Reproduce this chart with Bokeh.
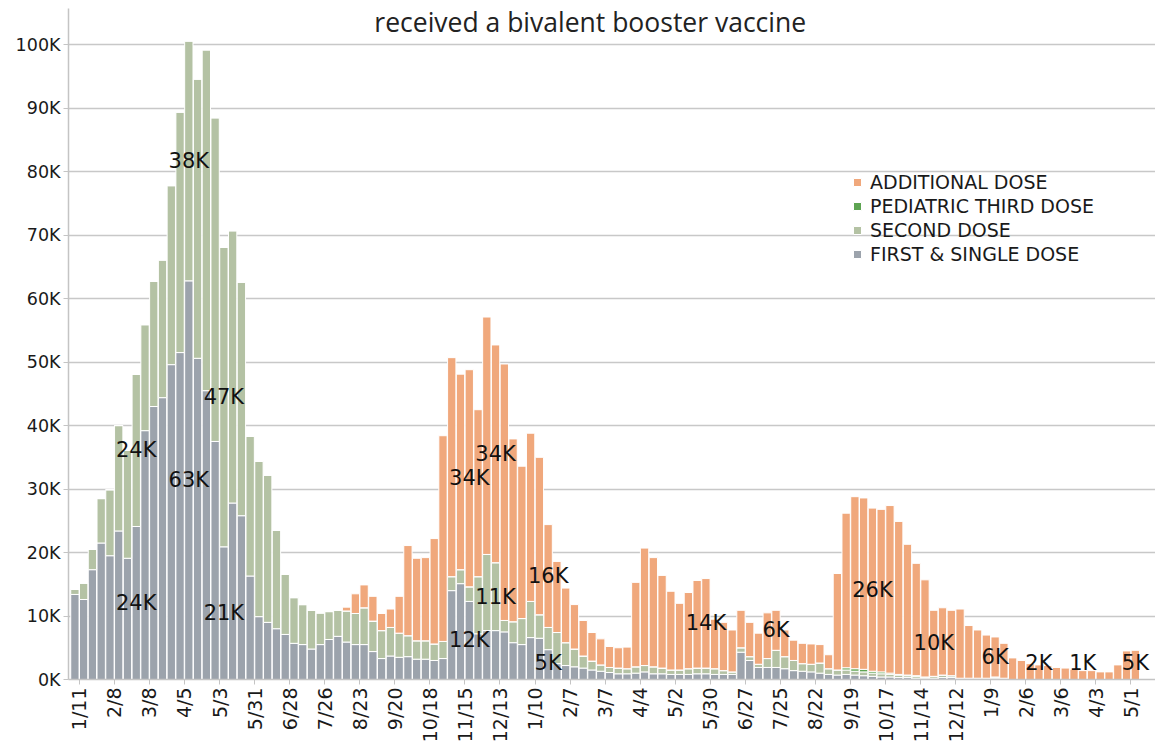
import math
from bokeh.plotting import figure
from bokeh.models import (ColumnDataSource, FixedTicker, Legend, LegendItem, Label,
                          LabelSet, Range1d)
from bokeh.embed import file_html
from bokeh.resources import INLINE
from bokeh.core.properties import value

# ---------------- data (weekly doses, thousands) ----------------
tick_labels = ["1/11", "2/8", "3/8", "4/5", "5/3", "5/31", "6/28", "7/26", "8/23", "9/20",
               "10/18", "11/15", "12/13", "1/10", "2/7", "3/7", "4/4", "5/2", "5/30", "6/27",
               "7/25", "8/22", "9/19", "10/17", "11/14", "12/12", "1/9", "2/6", "3/6", "4/3", "5/1"]

first_dose = [13.4, 12.6, 17.3, 21.5, 19.5, 23.4, 19.1, 24.1, 39.2, 43.0,
              44.4, 49.6, 51.5, 62.8, 50.6, 45.5, 37.5, 20.9, 27.8, 25.8,
              16.3, 9.9, 9.0, 8.0, 7.1, 5.7, 5.5, 4.8, 5.5, 6.3,
              6.8, 5.9, 5.5, 5.5, 4.4, 3.3, 3.7, 3.5, 3.6, 3.2,
              3.2, 3.0, 3.3, 14.0, 15.1, 12.3, 7.2, 7.7, 7.7, 7.5,
              5.8, 5.5, 6.6, 6.5, 4.7, 2.5, 2.2, 2.0, 1.8, 1.5,
              1.3, 1.1, 0.9, 0.9, 1.0, 1.2, 0.9, 0.9, 0.8, 0.8,
              0.8, 0.9, 0.9, 0.8, 0.8, 0.8, 4.3, 3.0, 1.9, 1.9,
              1.9, 1.7, 1.4, 1.3, 1.2, 1.0, 0.8, 0.7, 0.8, 0.7,
              0.6, 0.5, 0.4, 0.4, 0.3, 0.3, 0.2, 0.2, 0.2, 0.3,
              0.3, 0.1, 0.1, 0.1, 0.1, 0.2, 0.1, 0.0, 0.0, 0.0,
              0.0, 0.0, 0.0, 0.0, 0.0, 0.0, 0.0, 0.0, 0.0, 0.0,
              0.0, 0.0]

second_dose = [0.8, 2.6, 3.2, 7.0, 10.4, 16.6, 17.0, 24.0, 16.7, 19.7,
               21.7, 28.2, 37.9, 37.8, 44.0, 53.7, 51.0, 47.2, 42.9, 36.8,
               22.0, 24.5, 23.2, 15.5, 9.5, 7.2, 6.3, 6.1, 5.0, 4.4,
               4.1, 4.9, 4.9, 5.8, 4.8, 4.4, 4.5, 3.8, 3.3, 2.9,
               2.9, 2.6, 2.7, 2.2, 2.2, 2.3, 9.0, 12.0, 10.7, 1.8,
               3.3, 4.1, 5.7, 3.7, 3.5, 4.9, 3.6, 2.8, 1.9, 1.4,
               1.0, 0.8, 0.9, 0.8, 1.0, 1.0, 1.1, 0.9, 0.7, 0.7,
               0.9, 0.9, 0.9, 0.9, 0.6, 0.4, 0.7, 0.6, 0.5, 1.4,
               2.7, 1.9, 1.6, 1.2, 1.2, 1.6, 0.9, 0.8, 0.7, 0.6,
               0.6, 0.5, 0.5, 0.4, 0.4, 0.3, 0.3, 0.2, 0.3, 0.4,
               0.3, 0.1, 0.1, 0.1, 0.1, 0.2, 0.1, 0.0, 0.0, 0.0,
               0.0, 0.0, 0.0, 0.0, 0.0, 0.0, 0.0, 0.0, 0.0, 0.0,
               0.0, 0.0]

pediatric_third = [0.0] * 88 + [0.35, 0.4, 0.4, 0.3, 0.3, 0.2, 0.1, 0.1, 0.1] + [0.0] * 25

additional_dose = [0.0] * 31 + [
    0.6, 3.1, 3.6, 3.9, 2.7, 2.9, 5.8, 14.2, 13.0, 13.1,
    16.6, 32.4, 34.5, 30.8, 34.2, 26.3, 37.4, 34.3, 40.4, 28.8,
    24.0, 26.5, 24.8, 16.2, 11.2, 8.6, 7.0, 5.6, 4.5, 4.1,
    3.3, 3.2, 3.4, 13.3, 18.5, 17.2, 14.6, 12.4, 10.5, 12.0,
    13.8, 14.1, 7.8, 7.6, 6.6, 5.9, 5.4, 4.9, 7.2, 6.3,
    4.2, 3.2, 3.2, 3.2, 2.9, 2.2, 15.2, 24.35, 27.1, 27.0,
    25.7, 25.6, 26.4, 24.1, 20.6, 17.7, 15.3, 10.4, 10.6, 10.3,
    10.9, 8.3, 7.6, 6.8, 6.3, 5.5, 3.4, 3.0, 2.5, 2.3,
    2.2, 1.9, 1.8, 1.6, 1.4, 1.4, 1.2, 1.2, 2.3, 4.5,
    4.6]

series_keys = ["first", "second", "pediatric", "additional"]
series_names = ["FIRST & SINGLE DOSE", "SECOND DOSE", "PEDIATRIC THIRD DOSE", "ADDITIONAL DOSE"]
series_colors = ["#9ca3ac", "#b4c2a4", "#5ea452", "#f0a87c"]

# bars that carry a value label: (week index, series index)
labelled = [(7, 0), (7, 1), (13, 0), (13, 1), (17, 0), (17, 1),
            (45, 0), (45, 3), (48, 1), (48, 3), (54, 0), (54, 3),
            (72, 3), (80, 3), (91, 3), (98, 3), (105, 3), (110, 3),
            (115, 3), (121, 3)]

title_text = "received a bivalent booster vaccine"
y_ticks = list(range(0, 101, 10))

# ---------------- build ----------------
n = len(first_dose)
xs = [k + 0.5 for k in range(n)]
series = [first_dose, second_dose, pediatric_third, additional_dose]
src = ColumnDataSource(dict(x=xs, first=first_dose, second=second_dose,
                            pediatric=pediatric_third, additional=additional_dose))

FONT = "DejaVu Sans"
p = figure(width=1155, height=750, output_backend="svg", toolbar_location=None,
           x_range=Range1d(-0.23, 123.8), y_range=Range1d(0, 105.7),
           min_border_left=68, min_border_right=0, min_border_top=8, min_border_bottom=71)
p.outline_line_color = None
p.background_fill_color = "white"

renderers = p.vbar_stack(series_keys, x="x", width=0.95, source=src,
                         color=series_colors, line_color="white", line_width=1)

# value labels
lx, ly, lt = [], [], []
for k, s in labelled:
    base = sum(series[i][k] for i in range(s))
    v = series[s][k]
    lx.append(xs[k])
    ly.append(max(base + v / 2.0, 2.6))
    lt.append("%dK" % round(v))
lab_src = ColumnDataSource(dict(x=lx, y=ly, t=lt))
p.add_layout(LabelSet(x="x", y="y", text="t", source=lab_src, text_align="center",
                      text_baseline="middle", text_font=value(FONT),
                      text_font_size="21px", text_color="#111111"))

# title (top of chart)
p.add_layout(Label(x=59.3, y=106.4, text=title_text, text_align="center",
                   text_baseline="top", text_font="Open Sans",
                   text_font_size="26.5px", text_color="#222222"))

# axes
p.yaxis.ticker = FixedTicker(ticks=y_ticks)
p.yaxis.major_label_overrides = {t: "%dK" % t for t in y_ticks}
p.xaxis.ticker = FixedTicker(ticks=[1 + 4 * j for j in range(len(tick_labels))])
p.xaxis.major_label_overrides = {1 + 4 * j: lab for j, lab in enumerate(tick_labels)}
p.xaxis.major_label_orientation = math.pi / 2
for ax in (p.xaxis, p.yaxis):
    ax.axis_line_color = "#c4c4c4"
    ax.axis_line_width = 1.5
    ax.major_tick_line_color = "#c4c4c4"
    ax.major_tick_out = 5
    ax.major_tick_in = 0
    ax.minor_tick_line_color = None
    ax.major_label_text_font = FONT
    ax.major_label_text_color = "#1a1a1a"
    ax.major_label_standoff = 3
p.yaxis.major_label_text_font_size = "17.5px"
p.xaxis.major_label_text_font_size = "19px"

p.xgrid.grid_line_color = None
p.ygrid.grid_line_color = "#c8c8c8"
p.ygrid.grid_line_width = 1.5

# legend (top-to-bottom order as in the source)
order = [3, 2, 1, 0]
legend = Legend(items=[LegendItem(label=series_names[i], renderers=[renderers[i]]) for i in order],
                location=(784, 414), orientation="vertical",
                background_fill_alpha=0, border_line_alpha=0,
                padding=0, margin=0, spacing=2, label_height=22,
                glyph_width=10, glyph_height=10, label_standoff=8,
                label_text_font=FONT, label_text_font_size="19px",
                label_text_color="#1a1a1a")
p.add_layout(legend)

open("out.html", "w").write(file_html(p, INLINE))
